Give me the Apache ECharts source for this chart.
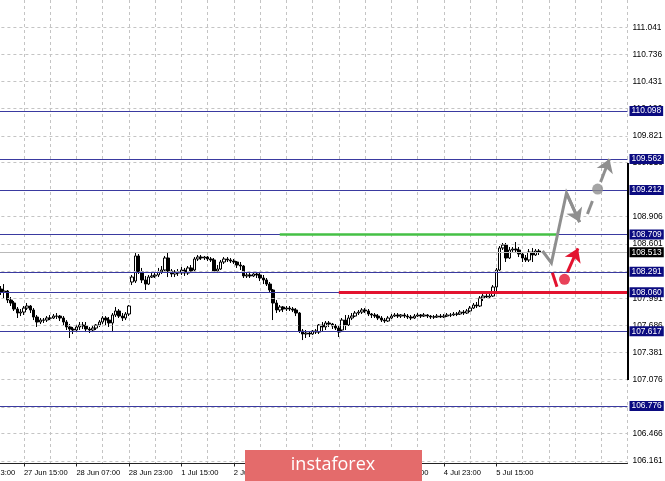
<!DOCTYPE html>
<html><head><meta charset="utf-8">
<script src="https://cdn.jsdelivr.net/npm/echarts@6/dist/echarts.min.js"></script>
<style>html,body{margin:0;padding:0;background:#fff}#c{width:665px;height:481px}</style>
</head><body><div id="c"></div>
<script>
// ---- data ----
const tradingDays = ['26 Jun','27 Jun','28 Jun','1 Jul','2 Jul','3 Jul','4 Jul','5 Jul','8 Jul','9 Jul'];
const firstHour = 23;          // first bar: 26 Jun 23:00 (H1 bars)
const barCount = 201;
const candleStart = 8;         // index of first candle
// [open, close, low, high]
const candles = [
[108.085,108.096,108.062,108.130],[108.096,108.062,108.029,108.130],[108.062,108.074,107.995,108.152],
[108.074,107.972,107.939,108.085],[107.972,107.939,107.905,108.006],[107.939,107.871,107.849,107.961],
[107.871,107.826,107.770,107.894],[107.826,107.837,107.792,107.871],[107.837,107.882,107.804,107.905],
[107.882,107.905,107.860,107.939],[107.905,107.860,107.826,107.916],[107.860,107.781,107.747,107.882],
[107.781,107.725,107.669,107.804],[107.725,107.747,107.702,107.770],[107.747,107.745,107.714,107.770],
[107.747,107.770,107.725,107.792],[107.770,107.768,107.747,107.804],[107.770,107.792,107.759,107.815],
[107.792,107.790,107.759,107.826],[107.792,107.770,107.736,107.804],[107.770,107.725,107.680,107.792],
[107.725,107.669,107.635,107.747],[107.669,107.646,107.545,107.702],[107.646,107.635,107.590,107.669],
[107.635,107.669,107.612,107.691],[107.669,107.691,107.635,107.725],[107.691,107.680,107.646,107.725],
[107.680,107.646,107.612,107.725],[107.646,107.635,107.601,107.669],[107.635,107.657,107.612,107.680],
[107.657,107.691,107.635,107.702],[107.691,107.725,107.669,107.747],[107.725,107.770,107.702,107.792],
[107.770,107.747,107.691,107.792],[107.747,107.714,107.669,107.781],[107.714,107.804,107.612,107.826],
[107.804,107.849,107.781,107.894],[107.849,107.792,107.770,107.871],[107.792,107.770,107.736,107.826],
[107.770,107.815,107.747,107.837],[107.815,107.905,107.792,107.916],
[108.175,108.231,108.141,108.254],[108.186,108.468,108.164,108.501],[108.468,108.288,108.265,108.490],
[108.288,108.198,108.164,108.333],[108.198,108.152,108.085,108.243],[108.152,108.231,108.141,108.254],
[108.231,108.243,108.220,108.276],[108.243,108.254,108.220,108.276],[108.254,108.288,108.231,108.333],
[108.288,108.310,108.265,108.355],[108.310,108.445,108.288,108.468],[108.445,108.299,108.231,108.513],
[108.299,108.265,108.231,108.321],[108.265,108.288,108.231,108.310],[108.288,108.276,108.243,108.321],
[108.276,108.310,108.254,108.344],[108.310,108.276,108.243,108.333],[108.276,108.333,108.254,108.355],
[108.333,108.299,108.276,108.366],[108.310,108.434,108.299,108.456],[108.434,108.456,108.411,108.479],
[108.456,108.445,108.423,108.479],[108.445,108.456,108.423,108.468],[108.456,108.434,108.411,108.468],
[108.434,108.423,108.400,108.456],[108.423,108.299,108.276,108.445],[108.299,108.321,108.276,108.366],
[108.321,108.400,108.310,108.423],[108.400,108.434,108.378,108.456],[108.434,108.423,108.400,108.456],
[108.423,108.411,108.389,108.445],[108.411,108.400,108.378,108.434],[108.400,108.366,108.333,108.411],
[108.366,108.355,108.310,108.400],[108.355,108.243,108.220,108.366],[108.243,108.254,108.220,108.288],
[108.254,108.243,108.220,108.276],[108.243,108.265,108.231,108.288],[108.265,108.254,108.220,108.288],
[108.254,108.220,108.186,108.276],[108.220,108.198,108.152,108.254],[108.198,108.152,108.130,108.220],
[108.152,108.085,108.051,108.175],[108.085,107.939,107.747,108.096],[107.939,107.860,107.826,107.972],
[107.860,107.894,107.837,107.916],[107.894,107.871,107.837,107.905],[107.871,107.882,107.849,107.905],
[107.882,107.871,107.849,107.905],[107.871,107.860,107.837,107.894],[107.860,107.826,107.792,107.882],
[107.826,107.624,107.601,107.837],[107.624,107.590,107.522,107.646],[107.590,107.601,107.545,107.635],
[107.601,107.590,107.556,107.624],[107.590,107.624,107.579,107.635],[107.624,107.612,107.590,107.646],
[107.612,107.691,107.590,107.702],[107.691,107.669,107.624,107.725],[107.669,107.714,107.635,107.736],
[107.714,107.702,107.669,107.736],[107.702,107.680,107.646,107.714],[107.680,107.657,107.635,107.702],
[107.657,107.612,107.556,107.691],[107.635,107.747,107.612,107.770],[107.747,107.691,107.635,107.804],
[107.691,107.770,107.680,107.804],[107.770,107.792,107.747,107.826],[107.792,107.826,107.781,107.849],
[107.826,107.837,107.804,107.860],[107.837,107.860,107.815,107.882],[107.860,107.849,107.826,107.882],
[107.849,107.815,107.792,107.871],[107.815,107.804,107.770,107.826],[107.804,107.792,107.770,107.826],
[107.792,107.770,107.747,107.815],[107.770,107.747,107.725,107.792],[107.747,107.736,107.714,107.770],
[107.736,107.770,107.725,107.792],[107.770,107.792,107.759,107.815],[107.792,107.804,107.781,107.826],
[107.804,107.792,107.770,107.826],[107.792,107.804,107.770,107.815],[107.804,107.792,107.770,107.826],
[107.792,107.781,107.759,107.815],[107.781,107.770,107.747,107.804],[107.770,107.792,107.759,107.815],
[107.792,107.804,107.781,107.826],[107.804,107.792,107.770,107.815],[107.792,107.804,107.781,107.826],
[107.804,107.792,107.770,107.815],[107.792,107.781,107.759,107.804],[107.781,107.783,107.759,107.804],
[107.781,107.792,107.770,107.815],[107.792,107.781,107.770,107.815],[107.781,107.792,107.770,107.815],
[107.792,107.804,107.781,107.826],[107.804,107.802,107.781,107.826],[107.804,107.815,107.792,107.837],
[107.815,107.813,107.792,107.837],[107.815,107.837,107.804,107.860],[107.837,107.826,107.804,107.860],
[107.826,107.849,107.815,107.871],[107.849,107.882,107.837,107.905],[107.882,107.916,107.871,107.939],
[107.916,107.905,107.882,107.950],[107.905,107.995,107.894,108.017],[107.995,108.017,107.961,108.040],
[108.017,108.006,107.995,108.040],[108.006,108.017,107.995,108.040],[108.017,108.119,108.006,108.141],
[108.119,108.310,108.051,108.333],[108.310,108.558,108.299,108.580],[108.558,108.591,108.535,108.614],
[108.591,108.445,108.400,108.614],[108.445,108.535,108.434,108.569],[108.535,108.546,108.513,108.569],
[108.546,108.535,108.501,108.625],[108.535,108.490,108.456,108.569],[108.490,108.445,108.400,108.513],
[108.445,108.423,108.400,108.479],[108.423,108.513,108.400,108.546],[108.513,108.479,108.400,108.558],
[108.479,108.524,108.468,108.546],[108.524,108.513,108.479,108.546]
];
const yTicks = [106.161,106.466,106.771,107.076,107.381,107.686,107.991,108.296,108.601,
                108.906,109.211,109.516,109.821,110.126,110.431,110.736,111.041];
const levels = [110.098,109.562,109.212,108.709,108.291,108.060,107.617,106.776];
const bidPrice = 108.513;
const greenSeg = [[94,108.709],[178.4,108.709]];
const redSeg = [[112,108.060],[200,108.060]];
const grayPath = [[174.1,108.524],[176.8,108.389],[181.4,109.176],[185.4,108.850]];
const grayDash = [[187.8,108.940],[189.3,109.086]];
const grayDot = [190.9,109.221];
const grayArrow = [[191.8,109.300],[194.5,109.559]];
const redTail = [[177.1,108.280],[178.5,108.122]];
const redDot = [180.8,108.205];
const redArrow = [[181.7,108.287],[184.9,108.554]];

// ---- build ----
const categories = [];
for (let d = 0; d < tradingDays.length && categories.length < barCount; d++) {
  for (let h = (d === 0 ? firstHour : 0); h < 24 && categories.length < barCount; h++) {
    categories.push(tradingDays[d] + ' ' + String(h).padStart(2, '0') + ':00');
  }
}
const lastBar = candleStart + candles.length - 1;
const candleData = categories.map((_, i) =>
  (i >= candleStart && i <= lastBar) ? candles[i - candleStart] : ['-','-','-','-']);
const showTime = (i) => i % 16 === 0 && i <= lastBar;

const FONT = 'Liberation Sans';
const GRAY = '#8f8f8f', RED = '#e3132f', GREEN = '#45c045';

const chart = echarts.init(document.getElementById('c'), null, {renderer: 'canvas'});
chart.setOption({
  animation: false,
  backgroundColor: '#ffffff',
  grid: {left: -28.6, right: 37.5, top: 0, bottom: 17.5, outerBoundsMode: 'none', containLabel: false},
  xAxis: [{
    type: 'category', data: categories, boundaryGap: false,
    axisLine: {show: true, lineStyle: {color: '#222', width: 1}},
    axisTick: {show: true, interval: showTime, length: 3, lineStyle: {color: '#222'}},
    axisLabel: {interval: showTime, align: 'left', margin: 5, color: '#000',
      fontFamily: FONT, fontSize: 7.6, showMinLabel: true, showMaxLabel: true, hideOverlap: false},
    splitLine: {show: true, interval: (i) => i % 8 === 0, lineStyle: {color: '#c4c4c4', type: [3, 3], width: 1}}
  }, {
    type: 'value', min: 0, max: barCount - 1, show: false, splitLine: {show: false}
  }],
  yAxis: {
    type: 'value', position: 'right', min: 106.133, max: 111.348, scale: true,
    axisLine: {show: true, lineStyle: {color: '#222', width: 1}},
    axisTick: {show: true, length: 3, customValues: yTicks, lineStyle: {color: '#222'}},
    axisLabel: {customValues: yTicks, formatter: (v) => v.toFixed(3), margin: 5, color: '#000',
      fontFamily: FONT, fontSize: 8.4, showMinLabel: true, showMaxLabel: true},
    splitLine: {show: false}
  },
  series: [
    { // horizontal grid
      type: 'line', data: [], z: 1, silent: true,
      markLine: {silent: true, symbol: ['none', 'none'], label: {show: false},
        lineStyle: {color: '#c4c4c4', type: [3, 3], width: 1},
        data: yTicks.map(v => ({yAxis: v}))}
    },
    { // bid line + levels
      type: 'line', data: [], z: 2, silent: true,
      markLine: {silent: true, symbol: ['none', 'none'],
        data: [
          {yAxis: bidPrice, lineStyle: {color: '#b9b9b9', type: 'solid', width: 1},
           label: {show: true, position: 'end', distance: 2, formatter: bidPrice.toFixed(3),
             backgroundColor: '#000', color: '#fff', fontFamily: FONT, fontSize: 8.4, padding: [1, 2, 0, 2], lineHeight: 9}}
        ].concat(levels.map(v => ({yAxis: v, lineStyle: {color: '#3a3aa0', type: 'solid', width: 1},
          label: {show: true, position: 'end', distance: 2, formatter: v.toFixed(3),
            backgroundColor: '#0b0b80', color: '#fff', fontFamily: FONT, fontSize: 8.4, padding: [1, 2, 0, 2], lineHeight: 9}})))
      }
    },
    {
      type: 'candlestick', data: candleData, z: 3, barWidth: 3,
      itemStyle: {color: '#ffffff', color0: '#000000', borderColor: '#000000', borderColor0: '#000000', borderWidth: 1}
    },
    { // green / red zones
      type: 'line', xAxisIndex: 1, data: [], z: 4, silent: true,
      markLine: {silent: true, symbol: ['none', 'none'], label: {show: false},
        data: [
          [{coord: greenSeg[0], lineStyle: {color: GREEN, width: 2.5, type: 'solid'}}, {coord: greenSeg[1]}],
          [{coord: redSeg[0], lineStyle: {color: RED, width: 3, type: 'solid'}}, {coord: redSeg[1]}]
        ]}
    },
    { // gray path
      type: 'line', xAxisIndex: 1, data: grayPath, z: 5, symbol: 'none', silent: true,
      lineStyle: {color: GRAY, width: 3, join: 'miter'},
      markLine: {silent: true, symbol: ['none', 'arrow'], symbolSize: 13, label: {show: false},
        lineStyle: {color: GRAY, width: 3, type: 'solid'},
        data: [
          [{coord: grayPath[2]}, {coord: grayPath[3]}],
          [{coord: grayArrow[0]}, {coord: grayArrow[1]}],
          [{coord: grayDash[0], symbol: 'none'}, {coord: grayDash[1], symbol: 'none'}]
        ]}
    },
    { // red path
      type: 'line', xAxisIndex: 1, data: redTail, z: 5, symbol: 'none', silent: true,
      lineStyle: {color: RED, width: 3},
      markLine: {silent: true, symbol: ['none', 'arrow'], symbolSize: 13, label: {show: false},
        lineStyle: {color: RED, width: 3, type: 'solid'},
        data: [[{coord: redArrow[0]}, {coord: redArrow[1]}]]}
    },
    {
      type: 'scatter', xAxisIndex: 1, z: 6, silent: true, symbolSize: 11,
      data: [{value: grayDot, itemStyle: {color: GRAY}}, {value: redDot, itemStyle: {color: RED}}]
    }
  ],
  graphic: [
    {type: 'rect', z: 100, shape: {x: 627, y: 163, width: 2, height: 217}, style: {fill: '#000'}},
    {type: 'rect', z: 100, shape: {x: 245, y: 450, width: 177, height: 31}, style: {fill: '#e46b6b'}},
    {type: 'text', z: 101, x: 333, y: 465, style: {text: 'instaforex', fill: '#fff',
      font: '18px "Open Sans"', align: 'center', verticalAlign: 'middle'}}
  ]
});
</script></body></html>
